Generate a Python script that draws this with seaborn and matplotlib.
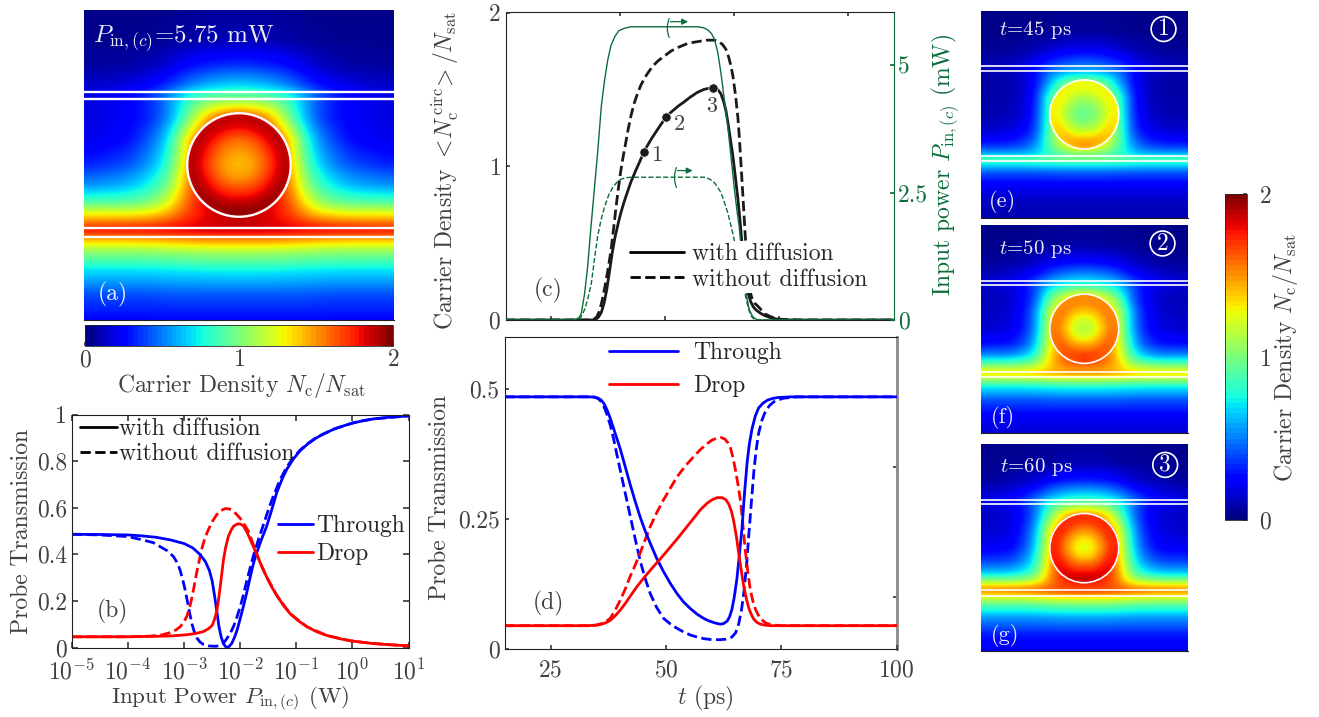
"""Carrier density maps and probe transmission curves, panels (a) to (g)."""

import matplotlib

matplotlib.use("Agg")

import matplotlib.pyplot as plt
import numpy as np
import seaborn as sns
from matplotlib.cm import ScalarMappable
from matplotlib.colors import Normalize
from matplotlib.lines import Line2D
from matplotlib.patches import Circle

sns.set_theme(style="ticks")
plt.rcParams["font.family"] = ["cmr10", "DejaVu Serif"]
plt.rcParams["mathtext.fontset"] = "cm"
plt.rcParams["axes.unicode_minus"] = False
plt.rcParams["axes.formatter.use_mathtext"] = True

FIG_W, FIG_H = 1319, 717
GRAY = "#404040"
GREEN = "#0B6E3A"
BLUE = "#0000FF"
RED = "#FF0000"
FS = 17

# ---- maps: rows top to bottom, columns edge to centre (mirrored when drawn)
field_rows = [0, .10, .18, .24, .275, .295, .35, .42, .50, .57, .62, .66, .69, .715, .74, .78, .84, .92, 1]
field_cols = [0, .14, .22, .28, .33, .41, .5]

field_a = [
    [.02, .02, .02, .03, .04, .05, .05],
    [.03, .03, .04, .05, .07, .09, .10],
    [.05, .07, .10, .17, .25, .32, .35],
    [.12, .16, .24, .34, .48, .60, .66],
    [.18, .24, .36, .54, .76, .88, .92],
    [.16, .22, .34, .52, .82, 1.05, 1.10],
    [.16, .22, .33, .55, .95, 1.55, 1.80],
    [.18, .25, .45, .72, 1.35, 1.90, 1.90],
    [.30, .40, .58, .85, 1.45, 1.90, 1.90],
    [.55, .62, .78, 1.02, 1.55, 1.90, 1.90],
    [.88, .90, 1.00, 1.25, 1.62, 1.90, 1.90],
    [1.30, 1.30, 1.35, 1.48, 1.70, 1.85, 1.90],
    [1.60, 1.62, 1.65, 1.72, 1.78, 1.85, 1.88],
    [1.78, 1.80, 1.80, 1.82, 1.83, 1.85, 1.85],
    [1.45, 1.45, 1.47, 1.50, 1.52, 1.55, 1.55],
    [1.05, 1.05, 1.06, 1.08, 1.10, 1.12, 1.12],
    [.70, .70, .70, .72, .72, .74, .74],
    [.40, .40, .40, .42, .42, .42, .42],
    [.25, .25, .25, .25, .25, .25, .25],
]
field_e = [
    [.02, .02, .02, .02, .03, .03, .03],
    [.02, .02, .03, .03, .04, .05, .05],
    [.03, .05, .07, .10, .14, .18, .20],
    [.07, .10, .15, .22, .30, .38, .42],
    [.10, .13, .20, .30, .42, .52, .55],
    [.08, .10, .16, .30, .48, .62, .66],
    [.06, .08, .15, .32, .62, 1.00, 1.10],
    [.07, .08, .16, .38, .90, 1.20, 1.20],
    [.08, .10, .18, .40, .95, 1.25, 1.20],
    [.13, .15, .24, .45, .95, 1.30, 1.30],
    [.22, .25, .34, .52, .95, 1.35, 1.45],
    [.38, .40, .46, .62, .88, 1.20, 1.40],
    [.60, .60, .62, .70, .82, .95, 1.00],
    [.90, .90, .90, .92, .95, 1.00, 1.00],
    [.72, .72, .72, .74, .75, .76, .76],
    [.42, .42, .42, .42, .43, .44, .44],
    [.22, .22, .22, .22, .22, .22, .22],
    [.12, .12, .12, .12, .12, .12, .12],
    [.09, .09, .09, .09, .09, .09, .09],
]
field_f = [
    [.02, .02, .02, .03, .03, .04, .04],
    [.02, .03, .04, .05, .06, .07, .08],
    [.04, .07, .10, .14, .20, .25, .27],
    [.10, .14, .22, .30, .42, .52, .56],
    [.14, .20, .30, .44, .60, .70, .74],
    [.12, .16, .26, .45, .68, .85, .90],
    [.10, .13, .26, .50, .95, 1.25, 1.45],
    [.11, .14, .30, .62, 1.20, 1.50, 1.50],
    [.14, .17, .33, .65, 1.25, 1.55, 1.55],
    [.26, .28, .42, .75, 1.30, 1.60, 1.60],
    [.50, .50, .62, .85, 1.35, 1.65, 1.70],
    [.85, .85, .92, 1.05, 1.40, 1.60, 1.70],
    [1.15, 1.15, 1.18, 1.25, 1.40, 1.50, 1.52],
    [1.35, 1.35, 1.37, 1.40, 1.45, 1.50, 1.52],
    [1.10, 1.10, 1.10, 1.12, 1.14, 1.16, 1.16],
    [.72, .72, .72, .74, .74, .76, .76],
    [.42, .42, .42, .42, .44, .44, .44],
    [.22, .22, .22, .22, .22, .22, .22],
    [.15, .15, .15, .15, .15, .15, .15],
]
field_g = [
    [.03, .03, .03, .03, .04, .05, .05],
    [.03, .04, .05, .06, .07, .09, .10],
    [.05, .09, .12, .17, .24, .30, .32],
    [.13, .18, .27, .38, .50, .62, .66],
    [.18, .25, .36, .54, .72, .84, .88],
    [.14, .20, .32, .54, .80, 1.00, 1.05],
    [.12, .15, .30, .58, 1.00, 1.45, 1.65],
    [.13, .17, .35, .70, 1.30, 1.70, 1.70],
    [.20, .22, .42, .78, 1.40, 1.72, 1.72],
    [.38, .40, .56, .88, 1.45, 1.78, 1.78],
    [.62, .64, .75, .98, 1.50, 1.82, 1.85],
    [1.02, 1.02, 1.08, 1.20, 1.55, 1.75, 1.85],
    [1.40, 1.42, 1.44, 1.50, 1.60, 1.68, 1.70],
    [1.50, 1.52, 1.55, 1.58, 1.62, 1.66, 1.68],
    [1.25, 1.25, 1.27, 1.30, 1.32, 1.35, 1.35],
    [.90, .90, .90, .92, .94, .96, .96],
    [.55, .55, .55, .56, .56, .58, .58],
    [.30, .30, .30, .30, .30, .30, .30],
    [.20, .20, .20, .20, .20, .20, .20],
]

# inside of the ring: value against radius towards the top, side and bottom
disk_radii = [0, .25, .5, .75, .9, 1]
disk_a = [[1.42, 1.48, 1.60, 1.82, 1.88, 1.86], [1.42, 1.47, 1.62, 1.82, 1.90, 1.85], [1.42, 1.50, 1.70, 1.90, 1.97, 1.95]]
disk_e = [[.95, 1.00, 1.12, 1.26, 1.28, 1.25], [.95, 1.00, 1.12, 1.28, 1.30, 1.28], [.95, 1.03, 1.22, 1.45, 1.50, 1.42]]
disk_f = [[1.15, 1.20, 1.38, 1.52, 1.52, 1.50], [1.15, 1.20, 1.38, 1.54, 1.55, 1.52], [1.15, 1.25, 1.50, 1.68, 1.70, 1.65]]
disk_g = [[1.25, 1.32, 1.50, 1.68, 1.72, 1.70], [1.25, 1.32, 1.50, 1.70, 1.74, 1.72], [1.25, 1.38, 1.62, 1.82, 1.88, 1.85]]

# ---- panel (b): log10 of input power (W) against transmission
b_through_x = [-5, -4.5, -4, -3.75, -3.5, -3.25, -3, -2.85, -2.72, -2.62, -2.55, -2.5, -2.46, -2.42, -2.38, -2.34, -2.3, -2.27, -2.24, -2.2, -2.15, -2.1, -2.05, -2, -1.94, -1.88, -1.82, -1.76, -1.71, -1.62, -1.53, -1.44, -1.35, -1.25, -1.17, -1.05, -.93, -.8, -.64, -.5, -.34, -.15, .02, .2, .37, .65, 1]
b_through_y = [.486, .485, .483, .479, .473, .462, .446, .428, .40, .368, .33, .285, .225, .16, .09, .045, .017, .006, 0, .004, .018, .045, .08, .125, .18, .24, .305, .365, .404, .465, .52, .59, .665, .725, .765, .81, .845, .873, .9, .918, .936, .952, .964, .974, .981, .988, .994]
b_through_nd_x = [-5, -4.5, -4, -3.73, -3.55, -3.43, -3.3, -3.19, -3.12, -3.07, -3.02, -2.98, -2.94, -2.9, -2.86, -2.81, -2.77, -2.72, -2.65, -2.57, -2.45, -2.36, -2.3, -2.24, -2.18, -2.12, -2.06, -2, -1.94, -1.88, -1.82, -1.77, -1.68, -1.59, -1.5, -1.41, -1.29, -1.17, -1.05, -.93, -.8, -.64, -.34, .02, .37, 1]
b_through_nd_y = [.486, .483, .476, .461, .45, .433, .415, .39, .362, .33, .285, .245, .195, .145, .10, .06, .04, .024, .012, .007, .005, .008, .018, .038, .06, .09, .13, .175, .23, .29, .345, .39, .46, .525, .59, .65, .72, .775, .815, .848, .875, .902, .937, .965, .981, .994]
b_drop_x = [-5, -4, -3.5, -3.2, -2.95, -2.8, -2.66, -2.57, -2.5, -2.46, -2.42, -2.39, -2.36, -2.33, -2.3, -2.26, -2.21, -2.16, -2.12, -2.07, -2.03, -1.98, -1.94, -1.88, -1.83, -1.77, -1.71, -1.62, -1.53, -1.44, -1.35, -1.23, -1.11, -.96, -.81, -.64, -.46, -.25, -.04, .15, .37, .65, 1]
b_drop_y = [.046, .046, .048, .05, .055, .06, .068, .08, .095, .12, .155, .2, .255, .315, .375, .43, .478, .505, .52, .528, .531, .528, .52, .495, .468, .435, .402, .35, .303, .26, .224, .18, .145, .114, .089, .068, .052, .039, .029, .023, .017, .012, .007]
b_drop_nd_x = [-5, -4, -3.6, -3.4, -3.25, -3.15, -3.07, -3, -2.95, -2.9, -2.87, -2.82, -2.78, -2.73, -2.69, -2.63, -2.57, -2.5, -2.42, -2.35, -2.27, -2.2, -2.15, -2.08, -2, -1.92, -1.85, -1.78, -1.71, -1.62, -1.53, -1.35, -1.11, -.81, -.46, -.04, .37, 1]
b_drop_nd_y = [.046, .046, .049, .054, .064, .075, .089, .112, .135, .175, .205, .265, .318, .375, .42, .47, .505, .54, .57, .587, .596, .595, .59, .575, .554, .525, .497, .45, .404, .35, .303, .224, .145, .089, .052, .029, .017, .007]

# ---- panel (c)
c_time = [15, 34, 34.8, 35.4, 36, 36.6, 37.2, 37.8, 38.4, 39, 39.7, 40.3, 41, 41.8, 42.5, 43.5, 44.4, 45.3, 46, 47, 48, 49, 50.2, 51, 52, 53, 54.2, 55.5, 57, 58.5, 60, 60.8, 61.5, 62.2, 62.8, 63.3, 63.8, 64.3, 64.8, 65.4, 65.9, 66.4, 66.8, 67.3, 67.7, 68.1, 68.7, 69.3, 69.9, 70.8, 71.7, 73, 74.6, 76, 78, 100]
c_with = [0, 0, .004, .02, .05, .11, .2, .32, .44, .54, .63, .70, .77, .84, .90, .97, 1.03, 1.09, 1.13, 1.18, 1.225, 1.27, 1.32, 1.345, 1.37, 1.395, 1.42, 1.45, 1.48, 1.50, 1.51, 1.51, 1.50, 1.47, 1.42, 1.36, 1.27, 1.17, 1.07, .92, .79, .64, .5, .36, .26, .18, .12, .085, .065, .045, .03, .015, .005, .001, 0, 0]
c_nd_time = [15, 34.2, 35, 35.6, 36.2, 36.8, 37.4, 38.1, 38.7, 39.2, 39.7, 40.2, 40.7, 41.2, 41.8, 42.5, 43.2, 44, 44.7, 45.6, 46.5, 47.4, 48.4, 49.5, 51.3, 53, 55, 57, 59, 60.8, 61.8, 62.6, 63.3, 63.9, 64.4, 64.8, 65.4, 65.9, 66.2, 66.6, 67, 67.5, 67.9, 68.4, 68.9, 69.6, 70.6, 71.8, 73.2, 74.5, 76, 80, 100]
c_without = [0, 0, .02, .06, .13, .22, .32, .45, .6, .73, .85, .96, 1.05, 1.13, 1.23, 1.33, 1.41, 1.48, 1.53, 1.58, 1.62, 1.655, 1.685, 1.71, 1.75, 1.775, 1.80, 1.81, 1.82, 1.82, 1.81, 1.79, 1.76, 1.71, 1.65, 1.59, 1.46, 1.32, 1.2, 1.01, .81, .56, .38, .21, .15, .11, .08, .04, .02, .008, .003, 0, 0]
c_mark_t = [45.3, 50.2, 60.4]
c_mark_n = [1.09, 1.32, 1.51]
c_mark_labels = ["1", "2", "3"]
c_power_t = [15, 30, 30.6, 31.1, 31.6, 32.3, 33, 33.7, 34.5, 35.2, 36, 36.7, 37.4, 38.1, 38.9, 39.8, 41, 42.5, 57.1, 58.4, 59.3, 60.1, 60.8, 61.5, 62.2, 62.9, 63.7, 64.4, 65.1, 65.7, 66.2, 66.9, 67.7, 68.4, 69.2, 70, 70.6, 100]
c_power = [0, 0, .02, .05, .13, .5, 1.05, 1.8, 2.6, 3.3, 4.2, 4.7, 5.1, 5.38, 5.55, 5.67, 5.72, 5.75, 5.75, 5.73, 5.69, 5.62, 5.5, 5.25, 4.84, 4.35, 3.8, 3.2, 2.6, 2.15, 1.83, 1.15, .52, .2, .06, .01, 0, 0]
c_half_t = [15, 30.8, 31.5, 32.3, 33, 33.8, 34.5, 35.2, 35.9, 36.7, 37.6, 38.5, 39.4, 40.3, 41.4, 42.5, 58.6, 59.8, 60.8, 61.5, 62.2, 62.9, 63.7, 64.4, 65.1, 65.7, 66.2, 66.9, 67.7, 68.3, 68.8, 69.4, 69.9, 100]
c_half = [0, 0, .05, .2, .4, .72, 1.2, 1.65, 1.95, 2.22, 2.45, 2.6, 2.7, 2.76, 2.79, 2.8, 2.8, 2.76, 2.69, 2.6, 2.5, 2.32, 2.1, 1.85, 1.57, 1.3, 1.1, .75, .42, .2, .08, .02, 0, 0]

# ---- panel (d)
d_through_t = [15, 33, 34.5, 35.3, 36, 36.6, 37.2, 37.9, 38.6, 39.3, 40.1, 41.2, 42.2, 43.3, 44.4, 45.5, 46.6, 48, 49.5, 51, 52.4, 53.8, 55.3, 56.8, 58.2, 59.4, 60.4, 61.2, 61.8, 62.5, 63.3, 63.8, 64.3, 64.8, 65.4, 65.9, 66.5, 67, 67.6, 68.1, 68.7, 69.4, 70.1, 71, 72, 73, 74.1, 77, 100]
d_through = [.4855, .4855, .485, .483, .479, .472, .461, .445, .426, .407, .385, .35, .318, .285, .254, .227, .203, .174, .148, .125, .106, .09, .077, .066, .058, .053, .05, .048, .047, .048, .053, .061, .075, .098, .135, .178, .232, .295, .358, .395, .425, .449, .464, .473, .479, .482, .484, .4855, .4855]
d_through_nd_t = [15, 33, 34.5, 35.3, 36, 36.6, 37.2, 37.9, 38.6, 39.3, 40.1, 41.1, 42.2, 43.3, 44.4, 45.5, 46.6, 48, 49.5, 51, 52.4, 53.8, 55.3, 56.8, 58.2, 60, 61.8, 63, 64.3, 65.1, 65.8, 66.4, 66.9, 67.5, 68, 68.6, 69.1, 69.6, 70.1, 70.8, 71.6, 72.5, 73.4, 74.5, 75.6, 78.5, 100]
d_through_nd = [.4855, .4855, .485, .482, .476, .466, .452, .432, .407, .377, .344, .303, .258, .213, .17, .135, .106, .079, .058, .047, .039, .032, .026, .022, .019, .017, .017, .018, .022, .03, .048, .075, .108, .163, .222, .29, .345, .385, .415, .44, .458, .469, .476, .48, .483, .4855, .4855]
d_drop_t = [15, 33, 34.8, 35.7, 36.8, 37.9, 39, 40.1, 41.2, 42.2, 43.6, 45.1, 46.9, 48.8, 50.6, 52.4, 54.2, 56, 57.5, 58.9, 60, 61.1, 62.2, 63, 63.6, 64.2, 64.7, 65.3, 65.8, 66.4, 66.9, 67.5, 68, 68.6, 69.1, 69.8, 70.5, 71.5, 72.7, 100]
d_drop = [.044, .044, .045, .046, .049, .054, .063, .074, .087, .1, .118, .135, .154, .173, .192, .211, .231, .251, .268, .28, .287, .291, .291, .287, .279, .265, .246, .215, .183, .147, .119, .094, .077, .064, .056, .05, .047, .045, .044, .044]
d_drop_nd_t = [15, 33, 34.8, 35.7, 36.8, 37.9, 39, 40.1, 41.2, 42.2, 43.3, 44.4, 45.5, 46.6, 48, 49.5, 51, 52.4, 54.2, 56, 57.5, 58.9, 60, 61.1, 62, 62.8, 63.5, 64, 64.5, 65, 65.6, 66.2, 66.7, 67.2, 67.8, 68.3, 68.9, 69.4, 70, 70.5, 71.5, 72.7, 75, 100]
d_drop_nd = [.044, .044, .045, .047, .051, .058, .074, .093, .115, .138, .16, .184, .21, .235, .262, .287, .31, .331, .352, .37, .384, .395, .402, .406, .407, .404, .396, .387, .37, .348, .318, .283, .238, .19, .145, .113, .09, .076, .065, .058, .05, .046, .044, .044]


def px_axes(fig, left, top, right, bottom):
    """Axes placed by reference pixel edges."""
    return fig.add_axes([left / FIG_W, 1 - bottom / FIG_H, (right - left) / FIG_W, (bottom - top) / FIG_H])


def px_text(fig, x, y, s, **kwargs):
    kwargs.setdefault("color", GRAY)
    kwargs.setdefault("fontsize", FS)
    fig.text(x / FIG_W, 1 - y / FIG_H, s, ha="center", va="center", **kwargs)


def draw_line(ax, x, y, color, dashed=False, lw=2.0):
    sns.lineplot(
        x=x, y=y, color=color, linestyle="--" if dashed else "-", linewidth=lw,
        estimator=None, sort=False, legend=False, ax=ax,
    )
    ax.set_xlabel("")
    ax.set_ylabel("")


def soften(image, sigma, axis, mode):
    """Gaussian softening of the resampled table so its grid does not show."""
    n = int(3 * sigma)
    kernel = np.exp(-.5 * (np.arange(-n, n + 1) / sigma) ** 2)
    kernel /= kernel.sum()
    pad = [(0, 0), (0, 0)]
    pad[axis] = (n, n)
    padded = np.pad(image, pad, mode=mode)
    return np.apply_along_axis(lambda s: np.convolve(s, kernel, mode="valid"), axis, padded)


def render_field(field):
    table = np.array(field)
    full = np.hstack([table, table[:, -2::-1]])
    cols = np.array(field_cols)
    xs = np.concatenate([cols, 1 - cols[-2::-1]])
    grid = np.linspace(0, 1, 401)
    across = np.array([np.interp(grid, xs, row) for row in full])
    image = np.array([np.interp(grid, field_rows, across[:, j]) for j in range(len(grid))]).T
    image = soften(image, 12, 1, "reflect")
    return soften(image, 3, 0, "edge")


def draw_map(ax, field, disk, lines, centre_y, lw):
    ax.imshow(render_field(field), extent=(0, 1, 1, 0), aspect="auto", cmap="jet", vmin=0, vmax=2, interpolation="bilinear")

    # ring interior on a polar mesh
    radius = .167
    theta = np.linspace(0, 2 * np.pi, 181)
    r = np.linspace(0, 1, 61)
    fold = np.where(theta <= np.pi, theta, 2 * np.pi - theta)
    top, side, bottom = [np.interp(r, disk_radii, p) for p in disk]
    values = np.array([[np.interp(a, [0, np.pi / 2, np.pi], [top[j], side[j], bottom[j]]) for j in range(len(r))] for a in fold])
    gx = .5 + radius * np.outer(np.sin(theta), r)
    gy = centre_y - radius * np.outer(np.cos(theta), r)
    ax.pcolormesh(gx, gy, values, shading="gouraud", cmap="jet", vmin=0, vmax=2)
    ax.add_patch(Circle((.5, centre_y), radius, fill=False, ec="white", lw=lw))
    for v in lines:
        ax.axhline(v, color="white", lw=lw)

    ax.set_xlim(0, 1)
    ax.set_ylim(1, 0)
    ax.set_xticks([])
    ax.set_yticks([])
    for name in ["top", "left", "right"]:
        ax.spines[name].set_visible(False)
    ax.spines["bottom"].set_color("#202020")
    ax.spines["bottom"].set_linewidth(.8)


def map_label(ax, u, v, s, size=FS):
    ax.text(u, v, s, color="white", alpha=.92, fontsize=size, ha="left", va="center")


def circled(ax, u, v, s):
    ax.add_patch(Circle((u, v), .06, fill=False, ec="white", lw=1.2))
    ax.text(u, v, s, color="white", fontsize=FS, ha="center", va="center")


def style_box(ax):
    ax.tick_params(which="both", direction="in", colors=GRAY, labelsize=FS)
    for spine in ax.spines.values():
        spine.set_color("#202020")
        spine.set_linewidth(.8)


def plain_legend(ax, handles, x, y, handlelength, textpad, spacing, **kwargs):
    labels = [h.get_label() for h in handles]
    kwargs.setdefault("frameon", False)
    return ax.legend(
        handles, labels, loc="upper left", bbox_to_anchor=(x, y), borderpad=0, borderaxespad=0,
        handlelength=handlelength, handletextpad=textpad, labelspacing=spacing, fontsize=FS,
        labelcolor="#262626", **kwargs,
    )


def plot_maps(fig):
    ax_a = px_axes(fig, 84, 10, 394, 320)
    draw_map(ax_a, field_a, disk_a, [.265, .287, .703, .732], .5, 1.7)
    map_label(ax_a, .03, .092, r"$P_{\mathrm{in},(c)}$=5.75 mW", 18)
    map_label(ax_a, .043, .916, "(a)")

    ax_e = px_axes(fig, 981, 11, 1187.5, 218)
    draw_map(ax_e, field_e, disk_e, [.264, .288, .700, .725], .5, 1.2)
    map_label(ax_e, .085, .092, "$t$=45 ps", 15)
    map_label(ax_e, .04, .92, "(e)", 16)
    circled(ax_e, .884, .087, "1")

    ax_f = px_axes(fig, 981, 225, 1187.5, 432.5)
    draw_map(ax_f, field_f, disk_f, [.269, .291, .708, .733], .5, 1.2)
    map_label(ax_f, .085, .118, "$t$=50 ps", 15)
    map_label(ax_f, .05, .927, "(f)", 16)
    circled(ax_f, .879, .089, "2")

    ax_g = px_axes(fig, 981, 443.5, 1187.5, 651)
    draw_map(ax_g, field_g, disk_g, [.27, .292, .704, .733], .504, 1.2)
    map_label(ax_g, .09, .113, "$t$=60 ps", 15)
    map_label(ax_g, .05, .927, "(g)", 16)
    circled(ax_g, .892, .103, "3")

    # colorbars use the stepped look of a 64 level map
    stepped = ScalarMappable(Normalize(0, 2), matplotlib.colormaps["jet"].resampled(64))
    minor = np.arange(.2, 2, .2)

    cax = px_axes(fig, 85, 325, 393, 346.5)
    bar = fig.colorbar(stepped, cax=cax, orientation="horizontal")
    bar.set_ticks([0, 1, 2])
    cax.set_xticks(minor, minor=True)
    cax.tick_params(which="both", axis="x", direction="in", colors=GRAY, labelsize=FS, length=3, pad=2)
    bar.outline.set_linewidth(.6)
    px_text(fig, 242, 386, r"Carrier Density $N_{\mathrm{c}}/N_{\mathrm{sat}}$")

    rax = px_axes(fig, 1224.5, 194, 1246.5, 520)
    bar = fig.colorbar(stepped, cax=rax)
    bar.set_ticks([0, 1, 2])
    rax.set_yticks(minor, minor=True)
    rax.tick_params(which="both", axis="y", direction="in", colors=GRAY, labelsize=FS, length=3, pad=9)
    bar.outline.set_linewidth(.6)
    px_text(fig, 1285, 357, r"Carrier Density $N_{\mathrm{c}}/N_{\mathrm{sat}}$", rotation=90)


def plot_power_sweep(fig):
    ax = px_axes(fig, 72, 414.5, 408.5, 647.5)
    ax.set_xscale("log")
    draw_line(ax, 10.0 ** np.array(b_through_nd_x), b_through_nd_y, BLUE, dashed=True)
    draw_line(ax, 10.0 ** np.array(b_drop_nd_x), b_drop_nd_y, RED, dashed=True)
    draw_line(ax, 10.0 ** np.array(b_through_x), b_through_y, BLUE)
    draw_line(ax, 10.0 ** np.array(b_drop_x), b_drop_y, RED)
    ax.set_xlim(1e-5, 10)
    ax.set_ylim(0, 1)
    ax.set_xticks(10.0 ** np.arange(-5, 2))
    ax.set_yticks([0, .2, .4, .6, .8, 1])
    ax.set_yticklabels(["0", "0.2", "0.4", "0.6", "0.8", "1"])
    style_box(ax)
    ax.tick_params(which="both", top=True, right=True)
    ax.tick_params(which="major", length=4)
    ax.tick_params(which="minor", length=2)
    ax.tick_params(axis="x", which="both", pad=8)

    style_handles = [
        Line2D([], [], color="black", lw=2, label="with diffusion"),
        Line2D([], [], color="black", lw=2, ls="--", label="without diffusion"),
    ]
    ax.add_artist(plain_legend(ax, style_handles, .024, .985, 1.55, .1, .12))
    colour_handles = [
        Line2D([], [], color=BLUE, lw=2, label="Through"),
        Line2D([], [], color=RED, lw=2, label="Drop"),
    ]
    plain_legend(ax, colour_handles, .613, .57, 1.45, .15, .25)

    ax.text(.075, .155, "(b)", transform=ax.transAxes, color=GRAY, fontsize=FS, ha="left", va="center")
    px_text(fig, 22, 532, "Probe Transmission", rotation=90)
    px_text(fig, 230, 699, r"Input Power $P_{\mathrm{in},(c)}$ (W)", fontsize=16.5)


def plot_carrier_pulse(fig):
    ax = px_axes(fig, 505.5, 12.5, 893.5, 320)
    ax2 = ax.twinx()
    draw_line(ax, c_nd_time, c_without, "#1a1a1a", dashed=True)
    draw_line(ax, c_time, c_with, "#1a1a1a")
    sns.scatterplot(x=c_mark_t, y=c_mark_n, color="#1a1a1a", s=45, zorder=5, legend=False, ax=ax)
    for t, n, s, dx, dy in zip(c_mark_t, c_mark_n, c_mark_labels, [2.9, 3, -.3], [-.02, -.05, -.12]):
        ax.text(t + dx, n + dy, s, color=GRAY, fontsize=16, ha="center", va="center")
    ax.set_xlim(15, 100)
    ax.set_ylim(0, 2)
    ax.set_xticks([25, 50, 75])
    ax.set_xticklabels([])
    ax.set_yticks([0, 1, 2])
    style_box(ax)
    ax.spines["right"].set_visible(False)
    ax.spines["top"].set_visible(False)
    ax.tick_params(length=3)
    top = ax.secondary_xaxis("top")
    top.set_xticks([40, 65, 90])
    top.set_xticklabels([])
    top.tick_params(direction="in", length=3, color=GRAY)
    top.spines["top"].set_color("#202020")
    top.spines["top"].set_linewidth(.8)
    ax.text(.072, .095, "(c)", transform=ax.transAxes, color=GRAY, fontsize=FS, ha="left", va="center")

    draw_line(ax2, c_power_t, c_power, GREEN, lw=1.0)
    draw_line(ax2, c_half_t, c_half, GREEN, dashed=True, lw=1.0)
    ax2.set_ylim(0, 6.03)
    ax2.set_yticks([0, 2.5, 5])
    ax2.set_yticklabels(["0", "2.5", "5"])
    ax2.tick_params(direction="in", colors=GREEN, labelsize=FS, length=3)
    for name in ["left", "top", "bottom"]:
        ax2.spines[name].set_visible(False)
    ax2.spines["right"].set_color(GREEN)
    ax2.spines["right"].set_linewidth(.8)

    # markers showing which axis the power curves belong to
    for t, low, high, arrow_y, arrow_end in [(51.1, 5.49, 5.96, 5.85, 55), (52.7, 2.55, 3.04, 2.93, 56)]:
        ax2.annotate("", xy=(t, high), xytext=(t, low), arrowprops=dict(arrowstyle="-", color=GREEN, lw=.9, connectionstyle="arc3,rad=-0.25"))
        ax2.annotate("", xy=(arrow_end, arrow_y), xytext=(t, arrow_y), arrowprops=dict(arrowstyle="-|>", color=GREEN, lw=.9, mutation_scale=9, shrinkA=0, shrinkB=0))

    handles = [
        Line2D([], [], color="black", lw=2, label="with diffusion"),
        Line2D([], [], color="black", lw=2, ls="--", label="without diffusion"),
    ]
    legend = plain_legend(ax2, handles, .32, .25, 2.3, .35, .14, frameon=True, facecolor="white", edgecolor="none", framealpha=1)
    legend.get_frame().set_boxstyle("square", pad=.1)

    px_text(fig, 445, 170, r"Carrier Density $<\!N_{\mathrm{c}}^{\,\mathrm{circ}}\!>/N_{\mathrm{sat}}$", rotation=90)
    px_text(fig, 945, 165, r"Input power $P_{\mathrm{in},(c)}$ (mW)", color=GREEN, rotation=90)


def plot_probe_pulse(fig):
    ax = px_axes(fig, 504.5, 337.5, 896.5, 648.5)
    draw_line(ax, d_through_nd_t, d_through_nd, BLUE, dashed=True)
    draw_line(ax, d_drop_nd_t, d_drop_nd, RED, dashed=True)
    draw_line(ax, d_through_t, d_through, BLUE)
    draw_line(ax, d_drop_t, d_drop, RED)
    ax.set_xlim(15, 100)
    ax.set_ylim(0, .6)
    ax.set_xticks([25, 50, 75, 100])
    ax.set_yticks([0, .25, .5])
    ax.set_yticklabels(["0", "0.25", "0.5"])
    style_box(ax)
    ax.tick_params(length=3)
    ax.tick_params(axis="x", pad=8)
    ax.spines["top"].set_color("#202020")
    ax.spines["right"].set_visible(False)
    right = ax.secondary_yaxis("right")
    right.set_yticks([.1, .35])
    right.set_yticklabels([])
    right.tick_params(direction="in", length=3, color=GRAY)
    right.spines["right"].set_color("#8a8a8a")
    right.spines["right"].set_linewidth(2)

    handles = [
        Line2D([], [], color=BLUE, lw=2, label="Through"),
        Line2D([], [], color=RED, lw=2, label="Drop"),
    ]
    plain_legend(ax, handles, .267, .985, 2.9, .65, .45)
    ax.text(.072, .145, "(d)", transform=ax.transAxes, color=GRAY, fontsize=FS, ha="left", va="center")
    px_text(fig, 440, 498, "Probe Transmission", rotation=90)
    px_text(fig, 705, 698, "$t$ (ps)")


def main():
    fig = plt.figure(figsize=(FIG_W / 100, FIG_H / 100), dpi=100)
    plot_maps(fig)
    plot_power_sweep(fig)
    plot_carrier_pulse(fig)
    plot_probe_pulse(fig)
    fig.savefig("out.png", dpi=100)
    plt.close(fig)


if __name__ == "__main__":
    main()
